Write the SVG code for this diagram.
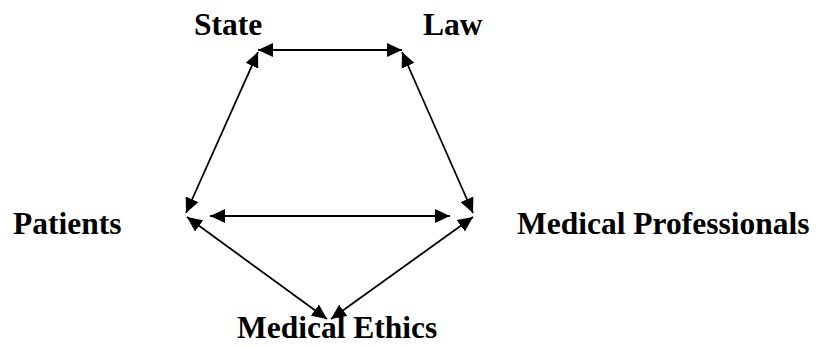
<svg xmlns="http://www.w3.org/2000/svg" width="816" height="347" viewBox="0 0 816 347">
<style>
text{font-family:"Liberation Serif","Times New Roman",serif;font-weight:bold;font-size:31.5px;fill:#000}
.c line{stroke:#000;stroke-width:1.8;marker-start:url(#ah);marker-end:url(#ah)}
</style>
<defs>
<marker id="ah" markerUnits="userSpaceOnUse" markerWidth="16" markerHeight="14" refX="15" refY="7" orient="auto-start-reverse" viewBox="0 0 16 14">
<path d="M0,0 L15,7 L0,14 z" fill="#000"/>
</marker>
</defs>
<rect width="816" height="347" fill="#fff"/>
<g id="state"><text x="194" y="35">State</text></g>
<g id="law"><text x="423" y="35">Law</text></g>
<g id="patients"><text x="13" y="234">Patients</text></g>
<g id="medical-professionals"><text x="517" y="234">Medical Professionals</text></g>
<g id="medical-ethics"><text x="237" y="338">Medical Ethics</text></g>
<g class="c" id="connectors">
<line x1="258" y1="50" x2="402" y2="50"/>
<line x1="258" y1="52" x2="186" y2="213"/>
<line x1="402" y1="52" x2="473" y2="213"/>
<line x1="210" y1="216" x2="450" y2="216"/>
<line x1="187" y1="217" x2="327" y2="319"/>
<line x1="473" y1="217" x2="331" y2="319"/>
</g>
</svg>
